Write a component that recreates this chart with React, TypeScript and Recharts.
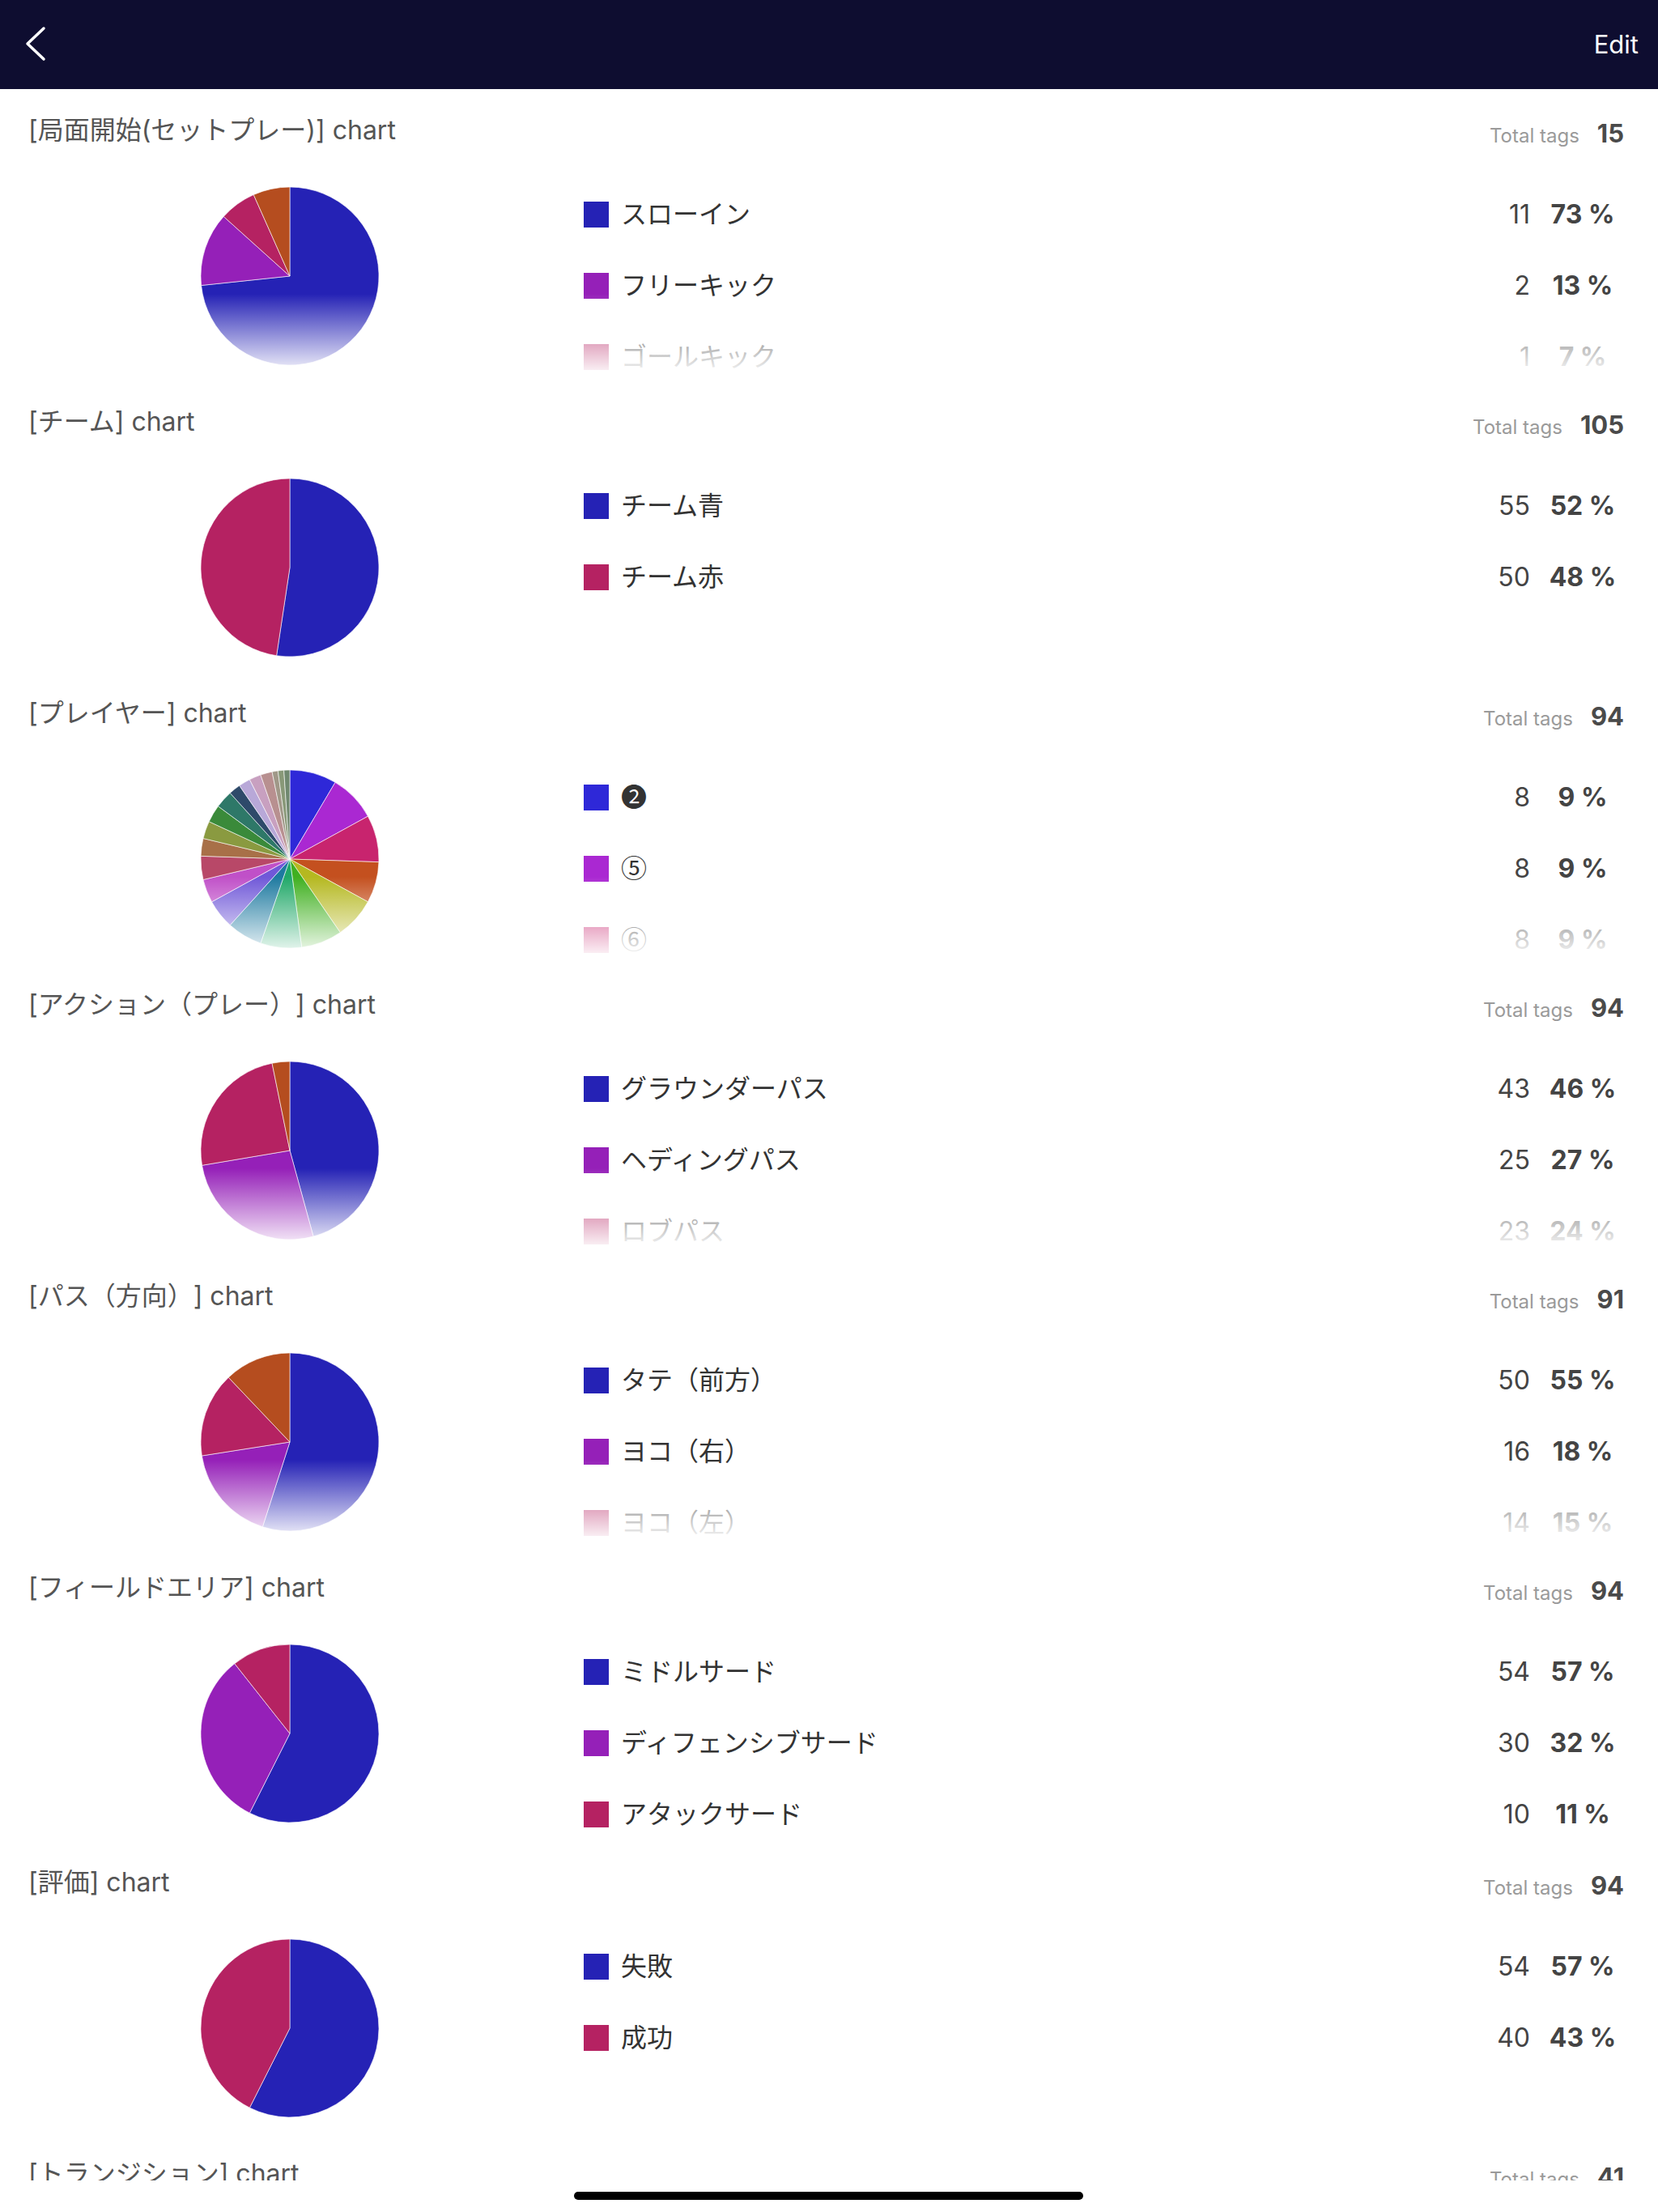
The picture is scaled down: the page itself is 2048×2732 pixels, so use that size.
import React from 'react';
import { PieChart, Pie, Cell } from 'recharts';

// ---- data ----
const setPlayTitle = '[局面開始(セットプレー)] chart';
const setPlayLabels = ['スローイン', 'フリーキック', 'ゴールキック', 'コーナーキック'];
const setPlayValues = [11, 2, 1, 1];
const setPlayColors = ['#2522b5', '#9520b8', '#b52262', '#b54d1f'];

const teamTitle = '[チーム] chart';
const teamLabels = ['チーム青', 'チーム赤'];
const teamValues = [55, 50];
const teamColors = ['#2522b5', '#b52262'];

const playerTitle = '[プレイヤー] chart';
const playerLabels = ['❷', '⑤', '⑥', '⑦', '⑧', '⑨', '⑩', '⑪', '⑫', '⑬', '⑭', '⑮', '⑯', '⑰', '⑱', '⑲', '⑳', '①', '③', '④', '❶', '❸'];
const playerValues = [8, 8, 8, 7, 7, 7, 7, 6, 5, 4, 4, 3, 3, 3, 3, 2, 2, 2, 2, 1, 1, 1];
const playerColors = [
  '#2e28d8', '#aa28d2', '#c8246e', '#c4501f', '#b5b820', '#40b020', '#20a868', '#1e7aa0',
  '#7058d8', '#c050c8', '#b84868', '#a87048', '#8a9a40', '#3a8a3a', '#2e7868', '#2e4a6a',
  '#b8a8d8', '#c8a0c0', '#b89090', '#a09888', '#889878', '#708870',
];

const actionTitle = '[アクション（プレー）] chart';
const actionLabels = ['グラウンダーパス', 'ヘディングパス', 'ロブパス', 'スルーパス'];
const actionValues = [43, 25, 23, 3];
const actionColors = ['#2522b5', '#9520b8', '#b52262', '#b54d1f'];

const directionTitle = '[パス（方向）] chart';
const directionLabels = ['タテ（前方）', 'ヨコ（右）', 'ヨコ（左）', 'バック（後方）'];
const directionValues = [50, 16, 14, 11];
const directionColors = ['#2522b5', '#9520b8', '#b52262', '#b54d1f'];

const areaTitle = '[フィールドエリア] chart';
const areaLabels = ['ミドルサード', 'ディフェンシブサード', 'アタックサード'];
const areaValues = [54, 30, 10];
const areaColors = ['#2522b5', '#9520b8', '#b52262'];

const ratingTitle = '[評価] chart';
const ratingLabels = ['失敗', '成功'];
const ratingValues = [54, 40];
const ratingColors = ['#2522b5', '#b52262'];

const transitionTitle = '[トランジション] chart';
const transitionTotal = 41;

const FONT = "Inter, 'Noto Sans CJK JP', sans-serif";
const LABEL_FONT = "Roboto, 'Noto Sans CJK JP', sans-serif";

type SectionProps = {
  title: string;
  labels: string[];
  values: number[];
  colors: string[];
  total?: number;
  y: number; // title center
};

function Section({ title, labels, values, colors, total, y }: SectionProps) {
  const sum = total ?? values.reduce((a, b) => a + b, 0);
  const data = labels.map((name, i) => ({ name, value: values[i] }));
  const rows = data.slice(0, 3);
  return (
    <>
      <div
        style={{
          position: 'absolute', left: 35, top: y - 19, height: 40, lineHeight: '40px',
          fontSize: 32, color: '#555', fontFamily: FONT, whiteSpace: 'nowrap',
          textSpacingTrim: 'space-all',
        } as React.CSSProperties}
      >
        {title}
      </div>
      <div
        style={{
          position: 'absolute', right: 2048 - 2006, top: y - 15, height: 40, lineHeight: '40px',
          fontFamily: FONT, whiteSpace: 'nowrap', display: 'flex', alignItems: 'baseline',
        }}
      >
        <span style={{ fontSize: 24, color: '#9a9a9a', marginRight: 22 }}>Total tags</span>
        <span style={{ fontSize: 31, color: '#4a4a4a', fontWeight: 700 }}>{sum}</span>
      </div>
      {data.length > 0 && (
        <div style={{ position: 'absolute', left: 238, top: y + 181 - 120 }}>
          <PieChart width={240} height={240} margin={{ top: 0, right: 0, bottom: 0, left: 0 }}>
            <Pie
              data={data}
              dataKey="value"
              nameKey="name"
              cx={120}
              cy={120}
              outerRadius={110}
              startAngle={90}
              endAngle={-270}
              stroke="rgba(255,255,255,0.6)"
              strokeWidth={1}
              isAnimationActive={false}
            >
              {data.map((d, i) => (
                <Cell key={d.name} fill={colors[i]} />
              ))}
            </Pie>
          </PieChart>
        </div>
      )}
      {rows.map((d, k) => {
        const cy = y + 105 + 88 * k;
        const pct = Math.round((d.value / sum) * 100);
        return (
          <React.Fragment key={d.name}>
            <div style={{ position: 'absolute', left: 721, top: cy - 16, width: 31, height: 32, background: colors[k] }} />
            <div
              style={{
                position: 'absolute', left: 767, top: cy - 20, height: 40, lineHeight: '40px',
                fontSize: 32, color: '#333', fontFamily: LABEL_FONT, whiteSpace: 'nowrap',
              }}
            >
              {d.name}
            </div>
            <div
              style={{
                position: 'absolute', right: 2048 - 1890, top: cy - 20, height: 40, lineHeight: '40px',
                fontSize: 32, color: '#444', fontFamily: FONT, textAlign: 'right',
              }}
            >
              {d.value}
            </div>
            <div
              style={{
                position: 'absolute', left: 1955 - 60, width: 120, top: cy - 20, height: 40, lineHeight: '40px',
                fontSize: 32, color: '#444', fontFamily: FONT, fontWeight: 700, textAlign: 'center', whiteSpace: 'nowrap',
              }}
            >
              {pct} %
            </div>
          </React.Fragment>
        );
      })}
      {data.length > 3 && (
        <div
          style={{
            position: 'absolute', left: 0, width: 2048, top: y + 203, height: 102,
            background: 'linear-gradient(to bottom, rgba(255,255,255,0) 0%, rgba(255,255,255,1) 100%)',
          }}
        />
      )}
    </>
  );
}

const sections = [
  { title: setPlayTitle, labels: setPlayLabels, values: setPlayValues, colors: setPlayColors },
  { title: teamTitle, labels: teamLabels, values: teamValues, colors: teamColors },
  { title: playerTitle, labels: playerLabels, values: playerValues, colors: playerColors },
  { title: actionTitle, labels: actionLabels, values: actionValues, colors: actionColors },
  { title: directionTitle, labels: directionLabels, values: directionValues, colors: directionColors },
  { title: areaTitle, labels: areaLabels, values: areaValues, colors: areaColors },
  { title: ratingTitle, labels: ratingLabels, values: ratingValues, colors: ratingColors },
  { title: transitionTitle, labels: [] as string[], values: [] as number[], colors: [] as string[], total: transitionTotal },
];

export default function App() {
  let y = 160;
  const placed = sections.map((s) => {
    const here = y;
    y += s.labels.length === 3 ? 364 : 360;
    return { ...s, y: here };
  });
  return (
    <div style={{ position: 'relative', width: 2048, height: 2732, background: '#fff', overflow: 'hidden' }}>
      <style>{'body{margin:0;}'}</style>
      <div style={{ position: 'absolute', left: 0, top: 0, width: 2048, height: 2693, overflow: 'hidden' }}>
        {placed.map((s) => (
          <Section key={s.title} {...s} />
        ))}
      </div>
      <div style={{ position: 'absolute', left: 0, top: 0, width: 2048, height: 110, background: '#0e0d30' }}>
        <svg width={80} height={110} style={{ position: 'absolute', left: 0, top: 0 }}>
          <polyline points="54,35 34,54 54,73" fill="none" stroke="#fff" strokeWidth={3.5} strokeLinecap="round" strokeLinejoin="round" />
        </svg>
        <div
          style={{
            position: 'absolute', right: 2048 - 2024, top: 35, height: 40, lineHeight: '40px',
            fontSize: 31, color: '#fff', fontFamily: FONT,
          }}
        >
          Edit
        </div>
      </div>
      <div style={{ position: 'absolute', left: 709, top: 2707, width: 629, height: 10, borderRadius: 5, background: '#000' }} />
    </div>
  );
}
